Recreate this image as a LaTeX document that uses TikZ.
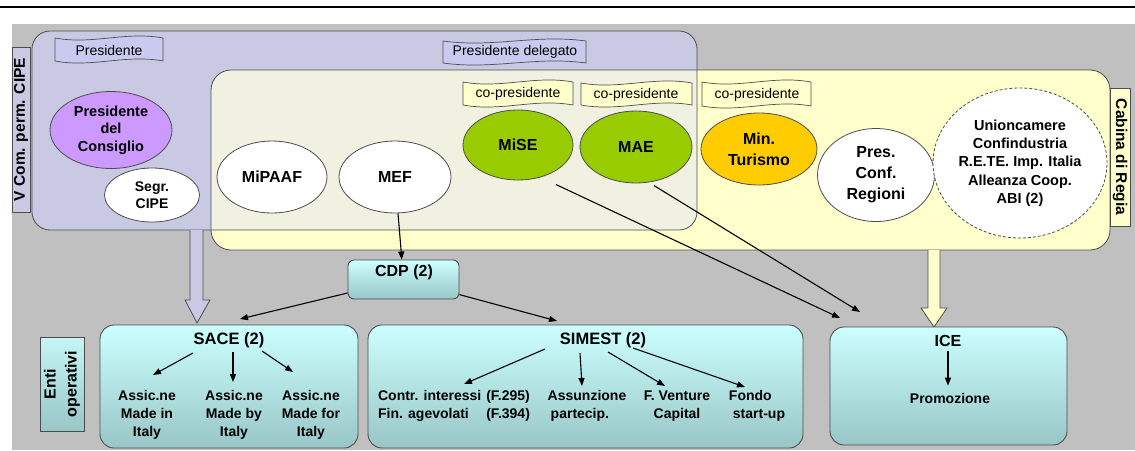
\documentclass[tikz,border=0pt]{standalone}
\usepackage{fontspec}
\setmainfont{Liberation Sans}
\usetikzlibrary{shapes.geometric,arrows.meta}
\definecolor{bggrey}{HTML}{C0C0C0}
\definecolor{lav}{HTML}{C9C9E3}
\definecolor{lavflag}{HTML}{CACAF0}
\definecolor{ylw}{HTML}{FFFFCC}
\definecolor{ovl}{HTML}{F1F1E2}
\definecolor{purp}{HTML}{CC99FF}
\definecolor{grn}{HTML}{99CC00}
\definecolor{orng}{HTML}{FFCC00}
\definecolor{cyt}{HTML}{CCFFFF}
\definecolor{cyb}{HTML}{99C6C6}
\definecolor{edge}{HTML}{4D4D4D}
\newcommand\flagbox[5]{\path[draw=edge, line width=0.7pt, fill=#5]
  (#1,#2) .. controls ({#1+0.35*(#3-#1)},{#2+7}) and ({#1+0.65*(#3-#1)},{#2-7}) .. (#3,#2)
  -- (#3,#4) .. controls ({#1+0.65*(#3-#1)},{#4-7}) and ({#1+0.35*(#3-#1)},{#4+7}) .. (#1,#4) -- cycle;}
\tikzset{
  ell/.style={ellipse, draw=edge, line width=0.8pt, inner sep=0pt, align=center,
    font=\bfseries\fontsize{16}{21}\selectfont},
  lbl/.style={inner sep=0pt, font=\fontsize{14}{17}\selectfont},
  tabbox/.style={draw=edge, line width=0.8pt, inner sep=0pt, font=\bfseries\fontsize{15.5}{20}\selectfont},
  opbox/.style={draw=edge, line width=0.9pt, rounded corners=14pt, top color=cyt, bottom color=cyb, inner sep=0pt},
  ttl/.style={inner sep=0pt, font=\bfseries\fontsize{16.5}{20}\selectfont},
  itm/.style={inner sep=0pt, align=center, font=\bfseries\fontsize{14}{18.3}\selectfont},
  arr/.style={-{Triangle[length=8pt,width=6pt]}, line width=1.1pt, black},
  blockarrow/.style={draw=edge, line width=0.8pt, line join=miter}
}
\begin{document}
\begin{tikzpicture}[x=1pt,y=-1pt]
\useasboundingbox (0,0) rectangle (1135,450);
% top rule and background
\draw[line width=2.5pt] (0,7) -- (1135,7);
\fill[bggrey] (12,24) rectangle (1135,450);
% groups
\fill[lav, rounded corners=18pt] (32,31) rectangle (697,230);
\fill[ylw, rounded corners=20pt] (211,70) rectangle (1110,250);
\begin{scope}
  \clip[rounded corners=18pt] (32,31) rectangle (697,230);
  \fill[ovl, rounded corners=20pt] (211,70) rectangle (1110,250);
\end{scope}
\draw[edge, line width=0.8pt, rounded corners=18pt] (32,31) rectangle (697,230);
\draw[edge, line width=0.8pt, rounded corners=20pt] (211,70) rectangle (1110,250);
% side tabs
\node[tabbox, fill=lav, rotate=90, minimum width=165, minimum height=18] (vcom) at (21,129.5) {V Com. perm. CIPE};
\node[tabbox, fill=ylw, rotate=-90, minimum width=138, minimum height=20] (cab) at (1120,157) {Cabina di Regia};
% banners
\flagbox{55}{38}{163}{61}{lavflag}
\node[lbl] (presl) at (109,50) {Presidente};
\flagbox{443}{41}{586}{63}{lavflag}
\node[lbl] (pdel) at (515,52) {Presidente delegato};
\flagbox{463}{82}{573}{105}{ylw}
\node[lbl] (cp1) at (518,94) {co-presidente};
\flagbox{581}{83}{692}{105}{ylw}
\node[lbl] (cp2) at (636,95) {co-presidente};
\flagbox{702}{82}{811}{106}{ylw}
\node[lbl] (cp3) at (757,95) {co-presidente};
% ellipses
\node[ell, fill=purp, minimum width=122, minimum height=77, font=\bfseries\fontsize{14.5}{17.5}\selectfont] (pdc) at (111,130) {Presidente\\del\\Consiglio};
\node[ell, fill=white, minimum width=95, minimum height=54, font=\bfseries\fontsize{14}{16.5}\selectfont] (segr) at (152,195) {Segr.\\CIPE};
\node[ell, fill=white, minimum width=110, minimum height=72] (mipaaf) at (272,177) {MiPAAF};
\node[ell, fill=white, minimum width=112, minimum height=72] (mef) at (395,177) {MEF};
\node[ell, fill=grn, minimum width=110, minimum height=70] (mise) at (518,145) {MiSE};
\node[ell, fill=grn, minimum width=112, minimum height=72] (mae) at (636,147) {MAE};
\node[ell, fill=orng, minimum width=116, minimum height=72] (tur) at (759,149) {Min.\\Turismo};
\node[ell, fill=white, minimum width=117, minimum height=93] (pcr) at (876,175) {Pres.\\Conf.\\Regioni};
\node[ell, fill=white, dash pattern=on 3pt off 2pt, minimum width=165, minimum height=150, font=\bfseries\fontsize{14.5}{18.3}\selectfont] (assoc) at (1020,163) {Unioncamere\\Confindustria\\R.E.TE. Imp. Italia\\Alleanza Coop.\\ABI (2)};
% block arrows
\filldraw[blockarrow, fill=lav] (190,230) -- (190,300) -- (185,300) -- (197,323) -- (210,300) -- (203,300) -- (203,230);
\filldraw[blockarrow, fill=ylw] (928,250) -- (928,308) -- (921,308) -- (934,327) -- (947,308) -- (940,308) -- (940,250);
% operative boxes
\node[opbox, rounded corners=6pt, minimum width=111, minimum height=39] (cdp) at (403.5,279.5) {};
\node[ttl, font=\bfseries\fontsize{16}{20}\selectfont] (cdpt) at (404,272) {CDP (2)};
\node[opbox, minimum width=258, minimum height=123] (sace) at (229,386.5) {};
\node[opbox, minimum width=435, minimum height=123] (simest) at (585.5,386.5) {};
\node[opbox, minimum width=237, minimum height=118] (ice) at (948.5,386) {};
\path[draw=edge, line width=0.8pt, top color=cyt!85!cyb, bottom color=cyb] (40,337) rectangle (84,431);
\node[rotate=90, align=center, inner sep=0pt, font=\bfseries\fontsize{16}{21}\selectfont] (enti) at (62,384) {Enti\\operativi};
% SACE content
\node[ttl] (sacet) at (229,340) {SACE (2)};
\node[itm] (sa1) at (147,415) {Assic.ne\\Made in\\Italy};
\node[itm] (sa2) at (234,415) {Assic.ne\\Made by\\Italy};
\node[itm] (sa3) at (311,415) {Assic.ne\\Made for\\Italy};
% SIMEST content
\node[ttl] (simt) at (603,340) {SIMEST (2)};
\node[itm] (si1) at (454,406) {\begin{tabular}{@{}l@{\hspace{5pt}}r@{}}Contr. interessi & (F.295)\\Fin. agevolati & (F.394)\end{tabular}};
\node[itm, align=left] (si2) at (587,406) {Assunzione\\\hspace*{3pt}partecip.};
\node[itm] (si3) at (677,406) {F. Venture\\Capital};
\node[itm, align=left] (si4) at (757,406) {Fondo\\\hspace*{4pt}start-up};
% ICE content
\node[ttl, font=\bfseries\fontsize{16}{20}\selectfont] (icet) at (948,341) {ICE};
\node[itm] (prom) at (950,398) {Promozione};
% coordinates
\coordinate (sacein) at (240,319);
\coordinate (simin) at (557,321);
\coordinate (icein1) at (840,318);
\coordinate (icein2) at (860,312);
\coordinate (s1a) at (193,353); \coordinate (s1b) at (153,375);
\coordinate (s2a) at (233,352); \coordinate (s2b) at (233,382);
\coordinate (s3a) at (262,351); \coordinate (s3b) at (293,372);
\coordinate (m1a) at (545,349); \coordinate (m1b) at (464,384);
\coordinate (m2a) at (580,353); \coordinate (m2b) at (582,386);
\coordinate (m3a) at (608,352); \coordinate (m3b) at (665,386);
\coordinate (m4a) at (633,348); \coordinate (m4b) at (745,387);
% connectors
\draw[arr] (mef) -- (cdp);
\draw[arr] (cdp) -- (sacein);
\draw[arr] (cdp) -- (simin);
\draw[arr, shorten <=17pt] (mise.-55) -- (icein1);
\draw[arr, shorten <=6pt] (mae.-70) -- (icein2);
\draw[arr] (s1a) -- (s1b);
\draw[arr] (s2a) -- (s2b);
\draw[arr] (s3a) -- (s3b);
\draw[arr] (m1a) -- (m1b);
\draw[arr] (m2a) -- (m2b);
\draw[arr] (m3a) -- (m3b);
\draw[arr] (m4a) -- (m4b);
\draw[arr, shorten <=4pt, shorten >=7pt] (icet.south) -- (icet.south |- prom.north);
\end{tikzpicture}
\end{document}
